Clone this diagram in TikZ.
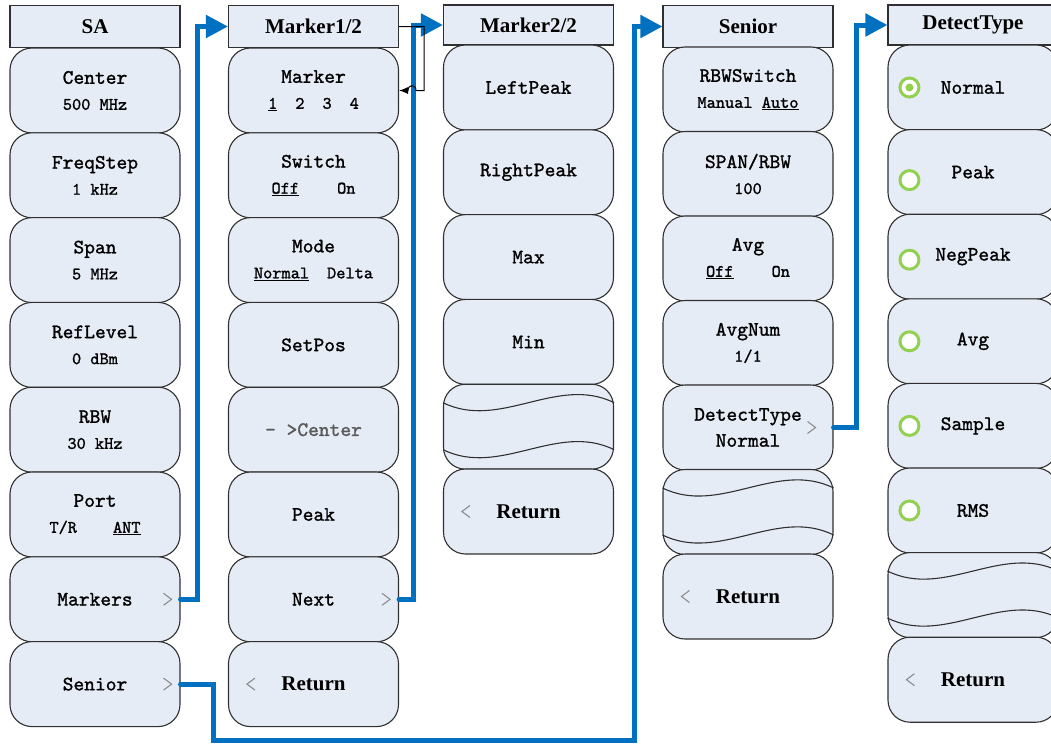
\documentclass[tikz,border=0pt]{standalone}
\usepackage{fontspec}
\setmainfont{Liberation Serif}
\setmonofont{lmmono10-regular}[Extension=.otf, FakeBold=1.2]
\usepackage{xcolor}
\definecolor{panel}{HTML}{E6ECF6}
\definecolor{edge}{HTML}{303030}
\definecolor{linkblue}{HTML}{0070C0}
\definecolor{radiogreen}{HTML}{92D050}
\definecolor{chevgray}{HTML}{8C8C8C}
\definecolor{dimtext}{HTML}{5A5A5A}
\usepackage{tikz}
\usetikzlibrary{positioning, arrows.meta}
\tikzset{
    head/.style = {draw=edge, fill=panel, line width=1.1pt, minimum width=170pt,
                   minimum height=42pt, inner sep=0pt, font=\bfseries\fontsize{21}{21}\selectfont},
    btn/.style = {draw=edge, fill=panel, line width=1.1pt, rounded corners=22pt,
                  minimum width=170pt, minimum height=85pt, inner sep=0pt, align=center,
                  font=\ttfamily\fontsize{20.5}{26}\selectfont},
    retlabel/.style = {inner sep=0pt, font=\bfseries\fontsize{21}{21}\selectfont},
    radio/.style = {circle, draw=radiogreen, line width=3pt, fill=white,
                    minimum size=19pt, inner sep=0pt},
    radiodot/.style = {circle, fill=radiogreen, minimum size=8pt, inner sep=0pt},
    chev/.style = {draw=chevgray, line width=1.1pt},
    wave/.style = {draw=edge, line width=1.1pt},
    link/.style = {line width=5pt, color=linkblue, line cap=round,
                   -{Triangle[length=22pt, width=22pt]}},
    jump/.style = {draw=black, line width=1pt, -{Latex[length=9pt, width=7pt]}},
}
\newcommand{\sub}[1]{{\fontsize{17.5}{17.5}\selectfont #1}}

\begin{document}
\begin{tikzpicture}[x=1pt, y=-1pt]
  \clip (0,0) rectangle (1051,744);
  % SA menu
  \node[head] (hSA) at (95,26.5) {SA};
  \node[btn] (sa1) at (95,90.5) {Center\\\sub{500 MHz}};
  \node[btn] (sa2) at (95,175.3) {FreqStep\\\sub{1 kHz}};
  \node[btn] (sa3) at (95,260.1) {Span\\\sub{5 MHz}};
  \node[btn] (sa4) at (95,344.9) {RefLevel\\\sub{0 dBm}};
  \node[btn] (sa5) at (95,429.7) {RBW\\\sub{30 kHz}};
  \node[btn] (sa6) at (95,514.5) {Port\\\sub{T/R\hspace{36pt}\underline{ANT}}};
  \node[btn] (sa7) at (95,599.3) {Markers};
  \node[btn] (sa8) at (95,684.1) {Senior};
  \draw[chev] ([xshift=-17pt,yshift=6pt]sa7.east) -- ++(8,6) -- ++(-8,6);
  \draw[chev] ([xshift=-17pt,yshift=6pt]sa8.east) -- ++(8,6) -- ++(-8,6);

  % Marker1/2 menu
  \node[head] (hMk1) at (313.5,26.5) {Marker1/2};
  \node[btn] (mk1) at (313.5,90.5) {Marker\\\sub{\underline{1}\hspace{18pt}2\hspace{18pt}3\hspace{18pt}4}};
  \node[btn] (mk2) at (313.5,175.3) {Switch\\\sub{\underline{Off}\hspace{38pt}On}};
  \node[btn] (mk3) at (313.5,260.1) {Mode\\\sub{\underline{Normal}\hspace{18pt}Delta}};
  \node[btn] (mk4) at (313.5,344.9) {SetPos};
  \node[btn, text=dimtext] (mk5) at (313.5,429.7) {- >Center};
  \node[btn] (mk6) at (313.5,514.5) {Peak};
  \node[btn] (mk7) at (313.5,599.3) {Next};
  \node[btn] (mk8) at (313.5,684.1) {};
  \node[retlabel] (rt1) at (mk8) {Return};
  \draw[chev] ([xshift=-17pt,yshift=6pt]mk7.east) -- ++(8,6) -- ++(-8,6);
  \draw[chev] ([xshift=27pt,yshift=6pt]mk8.west) -- ++(-8,6) -- ++(8,6);

  % Marker2/2 menu
  \node[head, minimum height=40pt] (hMk2) at (528.5,25) {Marker2/2};
  \node[btn] (mm1) at (528.5,87.5) {LeftPeak};
  \node[btn] (mm2) at (528.5,172.3) {RightPeak};
  \node[btn] (mm3) at (528.5,257.1) {Max};
  \node[btn] (mm4) at (528.5,341.9) {Min};
  \node[btn] (mm5) at (528.5,426.7) {};
  \node[btn] (mm6) at (528.5,511.5) {};
  \node[retlabel] (rt2) at (mm6) {Return};
  \draw[wave] ([yshift=-19pt]mm5.north west) .. controls +(57,28) and +(-57,-28) .. ([yshift=-19pt]mm5.north east);
  \draw[wave] ([yshift=-66pt]mm5.north west) .. controls +(57,28) and +(-57,-28) .. ([yshift=-66pt]mm5.north east);
  \draw[chev] ([xshift=27pt,yshift=6pt]mm6.west) -- ++(-8,6) -- ++(8,6);

  % Senior menu
  \node[head] (hSen) at (748,26.5) {Senior};
  \node[btn] (sn1) at (748,89.5) {RBWSwitch\\\sub{Manual \underline{Auto}}};
  \node[btn] (sn2) at (748,174) {SPAN/RBW\\\sub{100}};
  \node[btn] (sn3) at (748,258.5) {Avg\\\sub{\underline{Off}\hspace{38pt}On}};
  \node[btn] (sn4) at (748,343) {AvgNum\\\sub{1/1}};
  \node[btn] (sn5) at (748,427.5) {DetectType\\Normal};
  \node[btn] (sn6) at (748,512) {};
  \node[btn] (sn7) at (748,596.5) {};
  \node[retlabel] (rt3) at (sn7) {Return};
  \draw[chev] ([xshift=-26pt,yshift=6pt]sn5.east) -- ++(8,6) -- ++(-8,6);
  \draw[wave] ([yshift=-19pt]sn6.north west) .. controls +(57,28) and +(-57,-28) .. ([yshift=-19pt]sn6.north east);
  \draw[wave] ([yshift=-66pt]sn6.north west) .. controls +(57,28) and +(-57,-28) .. ([yshift=-66pt]sn6.north east);
  \draw[chev] ([xshift=27pt,yshift=6pt]sn7.west) -- ++(-8,6) -- ++(8,6);

  % DetectType menu
  \node[head, minimum height=40pt] (hDet) at (973,25) {DetectType};
  \node[btn] (dt1) at (973,87.5) {Normal};
  \node[btn] (dt2) at (973,172.1) {Peak};
  \node[btn] (dt3) at (973,256.7) {NegPeak};
  \node[btn] (dt4) at (973,341.3) {Avg};
  \node[btn] (dt5) at (973,425.9) {Sample};
  \node[btn] (dt6) at (973,510.5) {RMS};
  \node[btn] (dt7) at (973,595.1) {};
  \node[btn] (dt8) at (973,679.7) {};
  \node[retlabel] (rt4) at (dt8) {Return};
  \node[radio] (rd1) at ([xshift=22pt]dt1.west) {};
  \node[radiodot] (rdot) at (rd1) {};
  \node[radio] (rd2) at ([xshift=22pt,yshift=-8pt]dt2.west) {};
  \node[radio] (rd3) at ([xshift=22pt,yshift=-3pt]dt3.west) {};
  \node[radio] (rd4) at ([xshift=22pt]dt4.west) {};
  \node[radio] (rd5) at ([xshift=22pt]dt5.west) {};
  \node[radio] (rd6) at ([xshift=22pt]dt6.west) {};
  \draw[wave] ([yshift=-19pt]dt7.north west) .. controls +(57,28) and +(-57,-28) .. ([yshift=-19pt]dt7.north east);
  \draw[wave] ([yshift=-66pt]dt7.north west) .. controls +(57,28) and +(-57,-28) .. ([yshift=-66pt]dt7.north east);
  \draw[chev] ([xshift=27pt,yshift=6pt]dt8.west) -- ++(-8,6) -- ++(8,6);

  % links between menus
  \draw[link] (sa7.east) -- ++(17,0) |- (hMk1.west);
  \draw[link] (mk7.east) -- ++(14,0) |- (hMk2.west);
  \draw[link] (sa8.east) -- ++(33,0) |- (634,740) |- (hSen.west);
  \draw[link] (sn5.east) -- ++(23,0) |- (hDet.west);
  \draw[jump] (hMk1.east) -- (424,26.5) -- (424,90.5) -- (416,90.5)
      .. controls (416,84) and (408,84) .. (408,90.5) -- (mk1.east);
\end{tikzpicture}
\end{document}
